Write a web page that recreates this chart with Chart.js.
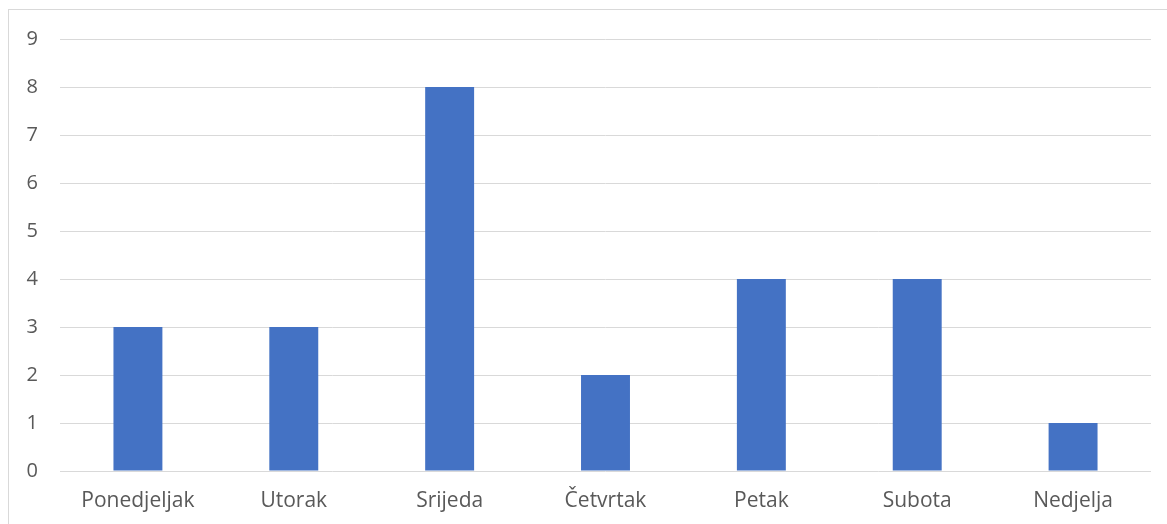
<!DOCTYPE html>
<html>
<head>
<meta charset="utf-8">
<script src="https://cdn.jsdelivr.net/npm/chart.js@4"></script>
<style>
  html, body { margin: 0; padding: 0; background: #fff; overflow: hidden; }
  .frame { position: absolute; left: 8px; top: 9px; width: 1170px; height: 530px; border: 1px solid #d9d9d9; box-sizing: border-box; }
  .wrap { position: absolute; left: 0; top: 0; width: 1167px; height: 524px; }
</style>
</head>
<body>
<div class="frame"></div>
<div class="wrap"><canvas class="chart"></canvas></div>
<script>
const days = ['Ponedjeljak', 'Utorak', 'Srijeda', 'Četvrtak', 'Petak', 'Subota', 'Nedjelja'];
const counts = [3, 3, 8, 2, 4, 4, 1];
const yMin = 0;
const yMax = 9;
const yStep = 1;

// Build the bar chart
function createChart() {
    let ctx = document.getElementsByClassName('chart')[0].getContext('2d');
    return new Chart(ctx, {
        type: 'bar',
        data: {
            labels: days,
            datasets: [{
                data: counts,
                backgroundColor: '#4472C4',
                borderWidth: 0,
                categoryPercentage: 1,
                barPercentage: 0.314
            }]
        },
        options: {
            responsive: true,
            maintainAspectRatio: false,
            animation: false,
            layout: { padding: { left: 0, right: 16, top: 39, bottom: 0 } },
            plugins: {
                legend: { display: false },
                tooltip: { enabled: false }
            },
            scales: {
                x: {
                    grid: { display: false, drawTicks: false },
                    border: { display: false },
                    ticks: { color: '#595959', font: { family: 'Open Sans', size: 21 }, padding: 17, maxRotation: 0 },
                    afterFit: scale => { scale.height = 53; }
                },
                y: {
                    min: yMin,
                    max: yMax,
                    grid: { color: '#d9d9d9', lineWidth: 1, drawTicks: false },
                    border: { display: false },
                    ticks: { stepSize: yStep, color: '#595959', font: { family: 'Open Sans', size: 20 }, padding: 22 },
                    afterFit: scale => { scale.width = 60; }
                }
            }
        }
    });
}

createChart();
</script>
</body>
</html>
